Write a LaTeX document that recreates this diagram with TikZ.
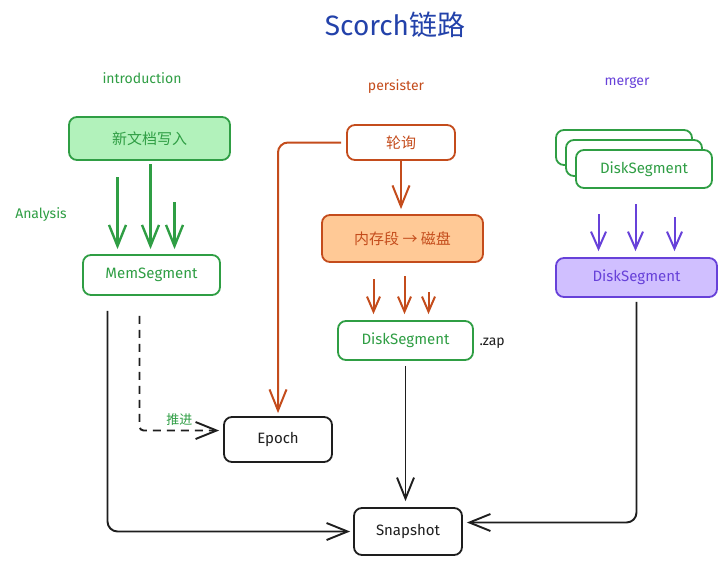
\documentclass[tikz,border=0pt]{standalone}
\definecolor{TitleBlue}{RGB}{35,66,170}
\definecolor{NoteGreen}{RGB}{47,158,68}
\definecolor{FillGreen}{RGB}{178,242,187}
\definecolor{NoteOrange}{RGB}{196,76,28}
\definecolor{FillOrange}{RGB}{255,201,150}
\definecolor{NotePurple}{RGB}{103,65,217}
\definecolor{FillPurple}{RGB}{208,191,255}
\definecolor{InkBlack}{RGB}{30,30,30}
\usepackage{fontspec}
\setmainfont{Fira Sans}
\newfontfamily\cjk{Noto Sans CJK SC}
\usepackage{tikz}
\usetikzlibrary{positioning,arrows.meta,calc}

\begin{document}
\begin{tikzpicture}[x=1pt,y=-1pt,
      >={Straight Barb[length=21pt,width=17pt]},
      box/.style={draw,rounded corners=8pt,line width=1.8pt,fill=white,
                  align=center,font=\fontsize{15}{17}\selectfont},
      gbox/.style={box,draw=NoteGreen,text=NoteGreen},
      obox/.style={box,draw=NoteOrange,text=NoteOrange},
      pbox/.style={box,draw=NotePurple,text=NotePurple},
      kbox/.style={box,draw=InkBlack,text=InkBlack},
      tag/.style={font=\fontsize{14}{16}\selectfont},
      garrow/.style={->,line width=2.4pt,draw=NoteGreen},
      oarrow/.style={->,line width=2pt,draw=NoteOrange},
      parrow/.style={->,line width=2pt,draw=NotePurple,>={Straight Barb[length=17pt,width=15pt]}},
      karrow/.style={->,line width=1.9pt,draw=InkBlack}]
    \useasboundingbox[fill=white] (0,0) rectangle (727,565);
    \node[text=TitleBlue,font=\fontsize{28}{32}\selectfont] (title) at (395,25) {Scorch{\cjk 链路}};
    \node[tag,text=NoteGreen] (intro) at (142,78) {introduction};
    \node[tag,text=NoteOrange] (pers) at (396,87) {persister};
    \node[tag,text=NotePurple] (merg) at (627,83) {merger};
    \node[tag,text=NoteGreen] (ana) at (41,215) {Analysis};
    \node[gbox,fill=FillGreen,minimum width=161pt,minimum height=43pt] (write) at (149.5,138.5) {\cjk 新文档写入};
    \node[gbox,minimum width=137pt,minimum height=40pt] (mem) at (151.5,275) {MemSegment};
    \node[obox,minimum width=108pt,minimum height=35pt] (poll) at (401,142.5) {\cjk 轮询};
    \node[obox,fill=FillOrange,minimum width=161pt,minimum height=47pt] (flush) at (402.5,238.5) {\cjk 内存段 → 磁盘};
    \node[gbox,minimum width=135pt,minimum height=39pt] (disk) at (405.5,340.5) {DiskSegment};
    \node[tag,text=InkBlack,anchor=west] (zap) at (476,343) {.zap};
    \node[kbox,minimum width=108pt,minimum height=45pt] (epoch) at (278,439.5) {Epoch};
    \node[kbox,minimum width=108pt,minimum height=47pt] (snap) at (408,531.5) {Snapshot};
    \node[gbox,minimum width=136pt,minimum height=35pt] (back) at (624,147.5) {};
    \node[gbox,minimum width=136pt,minimum height=36pt] (midd) at (634,158) {};
    \node[gbox,minimum width=136pt,minimum height=38pt] (front) at (644,169) {DiskSegment};
    \node[pbox,fill=FillPurple,minimum width=161pt,minimum height=39pt] (merged) at (636.5,277.5) {DiskSegment};
    \foreach \dx/\len in {-34/77,-1/90,23/52}
      \draw[garrow] ($(mem.north)+(\dx,-\len)$) -- ($(mem.north)+(\dx,-5)$);
    \foreach \dx/\len in {-32/41,-1/44,23/28}
      \draw[oarrow,>={Straight Barb[length=15pt,width=13pt]}] ($(disk.north)+(\dx,-\len)$) -- ($(disk.north)+(\dx,-6)$);
    \foreach \dx/\len in {-38/43,-1/53,38/40}
      \draw[parrow] ($(merged.north)+(\dx,-\len)$) -- ($(merged.north)+(\dx,-6)$);
    \draw[oarrow,shorten >=5pt] (poll) -- (poll |- flush.north);
    \draw[oarrow,rounded corners=10pt] ([xshift=-5pt]poll.west) -| ([yshift=3pt]epoch.north);
    \draw[->,line width=1.9pt,draw=InkBlack,dash pattern=on 8pt off 6pt,rounded corners=4pt]
      ($(mem.south)+(-12,20)$) |- ($(epoch.west)+(-4,-9)$)
      node[pos=0.75,above=1pt,text=NoteGreen,font=\cjk\fontsize{13}{15}\selectfont] (push) {推进};
    \draw[karrow,rounded corners=10pt] ($(mem.south)+(-44,15)$) |- ([xshift=-3pt]snap.west);
    \draw[karrow,shorten <=5pt,shorten >=6pt] (disk.south) -- (disk.south |- snap.north);
    \draw[karrow,rounded corners=10pt] ([yshift=-4pt]merged.south) |- ($(snap.east)+(4,-9)$);
  \end{tikzpicture}
\end{document}
